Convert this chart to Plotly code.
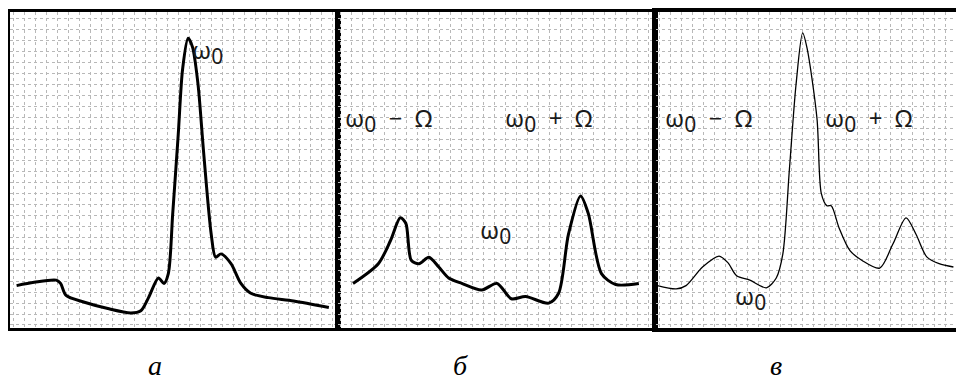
import plotly.graph_objects as go

# Panel а (single carrier peak)
a_x = [0.6, 2.2, 4.2, 4.6, 5.1, 6.7, 8.9, 11.0, 11.9, 12.6, 13.5, 14.0, 14.4, 14.8, 15.3, 15.7, 16.2, 16.6, 17.1, 17.6, 18.3, 18.7, 19.2, 20.1, 21.0, 21.9, 23.5, 25.8, 29.0]
a_y = [3.9, 4.2, 4.4, 4.1, 3.0, 2.4, 1.8, 1.4, 1.6, 2.8, 4.6, 4.1, 5.0, 10.5, 17.7, 23.7, 26.5, 25.7, 22.3, 16.2, 8.6, 6.5, 6.8, 5.9, 4.1, 3.2, 2.8, 2.5, 1.9]

# Panel б (two sidebands)
b_x = [1.4, 3.7, 4.8, 5.7, 6.2, 6.7, 7.4, 8.3, 9.2, 10.1, 11.3, 13.1, 14.5, 15.8, 17.1, 19.2, 20.1, 21.0, 22.1, 22.8, 24.0, 25.3, 27.4]
b_y = [4.1, 5.9, 8.0, 10.1, 9.6, 6.2, 5.9, 6.5, 5.6, 4.6, 4.1, 3.5, 4.1, 2.7, 2.9, 2.3, 3.2, 8.6, 12.1, 10.5, 5.0, 4.0, 4.1]

# Panel в (carrier + sidebands)
c_x = [0.1, 1.8, 2.7, 4.2, 5.7, 6.5, 7.3, 8.5, 10.0, 10.9, 11.5, 12.1, 12.7, 13.3, 13.7, 14.6, 15.0, 15.5, 15.9, 16.6, 17.6, 18.7, 20.3, 21.5, 22.7, 23.6, 24.6, 25.7, 27.0]
c_y = [3.9, 3.6, 3.9, 5.6, 6.6, 6.0, 4.8, 4.4, 3.7, 4.6, 6.8, 14.6, 22.3, 27.0, 25.6, 19.2, 12.3, 11.2, 11.2, 9.2, 7.1, 6.2, 5.5, 7.7, 10.1, 8.6, 6.5, 5.9, 5.6]

panel_labels = ["а", "б", "в"]

# page body has an 8px margin; compensate so the figure fills the 964x380 window
OFF = 8
W, H = 964 - OFF, 380 - OFF

def px_x(p):
    return (p - OFF) / W

def px_y(p):
    return 1 - (p - OFF) / H

fig = go.Figure()

fig.add_trace(go.Scatter(x=a_x, y=a_y, mode="lines", line=dict(color="black", width=3, shape="spline", smoothing=0.8),
                         xaxis="x", yaxis="y", showlegend=False))
fig.add_trace(go.Scatter(x=b_x, y=b_y, mode="lines", line=dict(color="black", width=3, shape="spline", smoothing=0.8),
                         xaxis="x2", yaxis="y2", showlegend=False))
fig.add_trace(go.Scatter(x=c_x, y=c_y, mode="lines", line=dict(color="black", width=1.3, shape="spline", smoothing=0.8),
                         xaxis="x3", yaxis="y3", showlegend=False))

top_px, bot_px = 10.5, 328
ydom = [px_y(bot_px), px_y(top_px)]
xdoms = [[px_x(10), px_x(338)], [px_x(338), px_x(656)], [px_x(657), px_x(961)]]
xranges = [[0, 29.8], [0, 28.9], [0, 27.6]]
yrange = [0, (bot_px - top_px) / 11.0]
lws = [3, 2.5, 4]

def ax_common(lw):
    return dict(showgrid=True, gridcolor="#b8b8b8", griddash="dot", gridwidth=1,
                dtick=1, tick0=0.3, showticklabels=False, ticks="", zeroline=False,
                showline=True, mirror=True, linecolor="black", linewidth=lw)

layout = dict(width=W, height=H, margin=dict(l=0, r=0, t=0, b=0),
              paper_bgcolor="white", plot_bgcolor="white")
for i in range(3):
    sx = "" if i == 0 else str(i + 1)
    layout["xaxis" + sx] = dict(domain=xdoms[i], range=xranges[i], anchor="y" + sx, **ax_common(lws[i]))
    layout["yaxis" + sx] = dict(domain=ydom, range=yrange, anchor="x" + sx, **ax_common(lws[i]))
fig.update_layout(**layout)

lbl_font = dict(family="Noto Sans, Open Sans, sans-serif", size=24, color="#1a1a1a")
w0 = "ω<sub><span style='font-size:21px'>0</span></sub>"
sep_m = w0 + "\u00a0\u00a0−\u00a0\u00a0Ω"
sep_p = w0 + "\u00a0\u00a0+\u00a0\u00a0Ω"
ann = [
    dict(x=18.0, y=25.3, xref="x", yref="y", text=w0),
    dict(x=4.6, y=19.1, xref="x2", yref="y2", text=sep_m),
    dict(x=19.2, y=19.1, xref="x2", yref="y2", text=sep_p),
    dict(x=14.4, y=8.8, xref="x2", yref="y2", text=w0),
    dict(x=4.7, y=19.1, xref="x3", yref="y3", text=sep_m),
    dict(x=19.3, y=19.1, xref="x3", yref="y3", text=sep_p),
    dict(x=8.6, y=2.8, xref="x3", yref="y3", text=w0),
]
for a in ann:
    fig.add_annotation(showarrow=False, font=lbl_font, xanchor="center", yanchor="middle", **a)

for lab, px in zip(panel_labels, [155, 461, 777]):
    fig.add_annotation(x=px_x(px), y=px_y(365), xref="paper", yref="paper", showarrow=False,
                       xanchor="center", yanchor="middle",
                       text="<i>" + lab + "</i>",
                       font=dict(family="Liberation Serif, serif", size=28, color="black"))

fig.write_html("out.html")
